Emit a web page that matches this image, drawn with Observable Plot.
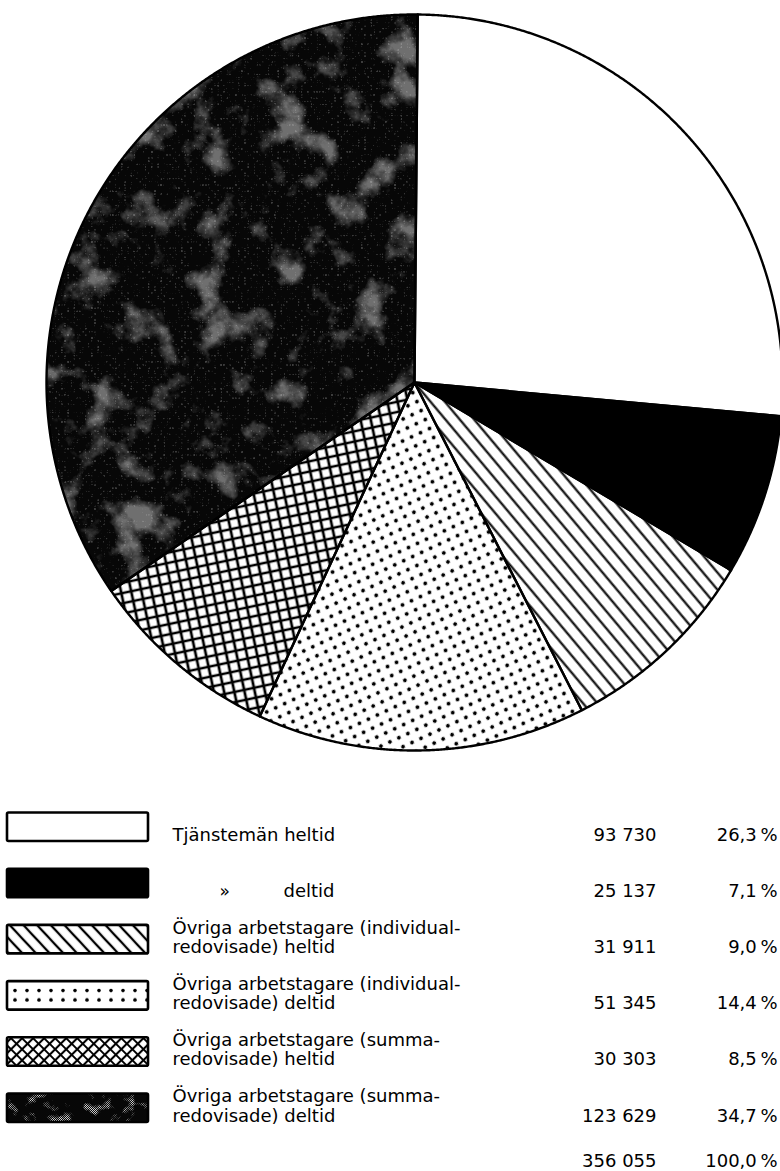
<!DOCTYPE html>
<html>
<head>
<meta charset="utf-8">
<script src="https://cdn.jsdelivr.net/npm/d3@7"></script>
<script src="https://cdn.jsdelivr.net/npm/@observablehq/plot@0.6"></script>
<style>
  html, body { margin: 0; padding: 0; background: #fff; }
  #chart { width: 780px; }
  #chart svg { display: block; }
</style>
</head>
<body>
<div id="chart"></div>
<script>
// ---------------- data ----------------
const categories = [
  "Tjänstemän heltid",
  "» deltid",
  "Övriga arbetstagare (individual-\nredovisade) heltid",
  "Övriga arbetstagare (individual-\nredovisade) deltid",
  "Övriga arbetstagare (summa-\nredovisade) heltid",
  "Övriga arbetstagare (summa-\nredovisade) deltid"
];
const values = [93730, 25137, 31911, 51345, 30303, 123629];
const valueLabels = ["93 730", "25 137", "31 911", "51 345", "30 303", "123 629"];
const percentLabels = ["26,3\u2009%", "7,1\u2009%", "9,0\u2009%", "14,4\u2009%", "8,5\u2009%", "34,7\u2009%"];
const totalValueLabel = "356 055";
const totalPercentLabel = "100,0\u2009%";
const pieFills = ["white", "black", "url(#p-hatch)", "url(#p-dots)", "url(#p-cross)", "#070707"];
const swatchFills = ["white", "black", "url(#l-hatch)", "url(#l-dots)", "url(#l-cross)", "#070707"];

// ---------------- pie ----------------
const cx = 414, cy = 382, R = 368;
const offset = 0.5 * Math.PI / 180;
const arcs = d3.pie().sort(null).startAngle(offset).endAngle(offset + 2 * Math.PI)(values);
const slices = arcs.map((a, i) => {
  const n = Math.max(2, Math.ceil((a.endAngle - a.startAngle) / 0.004));
  const pts = [{x: 0, y: 0}];
  for (let k = 0; k <= n; k++) {
    const t = a.startAngle + (a.endAngle - a.startAngle) * k / n;
    pts.push({x: Math.sin(t), y: Math.cos(t)});
  }
  return {i, pts};
});

const pie = Plot.plot({
  width: 780, height: 790, margin: 0,
  x: {domain: [-1, 1], range: [cx - R, cx + R], axis: null},
  y: {domain: [-1, 1], range: [cy + R, cy - R], axis: null},
  style: {background: "white", overflow: "hidden"},
  marks: [
    ...slices.map(s => Plot.line(s.pts, {x: "x", y: "y", curve: "linear-closed", fill: pieFills[s.i], stroke: "none"})),
    Plot.line(slices[5].pts, {x: "x", y: "y", curve: "linear-closed", fill: "url(#p-speck)", stroke: "none"}),
    Plot.line(slices[5].pts, {x: "x", y: "y", curve: "linear-closed", fill: "url(#p-speck2)", stroke: "none"}),
    ...slices.map(s => Plot.line(s.pts, {x: "x", y: "y", curve: "linear-closed", fill: "none", stroke: "black", strokeWidth: 2.4, strokeLinejoin: "round"}))
  ]
});

const defsPie = `
<pattern id="p-hatch" patternUnits="userSpaceOnUse" width="20" height="11" patternTransform="rotate(50)">
  <rect width="20" height="11" fill="white"/>
  <line x1="0" y1="5.5" x2="20" y2="5.5" stroke="black" stroke-width="2.1"/>
</pattern>
<pattern id="p-dots" patternUnits="userSpaceOnUse" width="14" height="14" patternTransform="rotate(20)">
  <rect width="14" height="14" fill="white"/>
  <circle cx="3.5" cy="3.5" r="1.9" fill="black"/>
  <circle cx="10.5" cy="10.5" r="1.9" fill="black"/>
</pattern>
<pattern id="p-cross" patternUnits="userSpaceOnUse" width="10" height="10" patternTransform="rotate(-12)">
  <rect width="10" height="10" fill="white"/>
  <path d="M0,5H10M5,0V10" stroke="black" stroke-width="2.7"/>
</pattern>
<pattern id="p-speck" patternUnits="userSpaceOnUse" width="2" height="2">
  <rect x="0" y="0" width="1" height="1" fill="#d8d8d8"/>
  <rect x="1" y="1" width="1" height="1" fill="#d8d8d8"/>
</pattern>
<pattern id="p-speck2" patternUnits="userSpaceOnUse" width="3" height="3">
  <rect x="1" y="1" width="1" height="1" fill="#e0e0e0"/>
</pattern>
<filter id="mottle" x="0" y="0" width="1" height="1">
  <feTurbulence type="fractalNoise" baseFrequency="0.026" numOctaves="5" seed="7" result="n"/>
  <feColorMatrix in="n" type="matrix" values="0 0 0 0 0  0 0 0 0 0  0 0 0 0 0  4.2 0 0 0 -2.2" result="m"/>
  <feComposite in="SourceGraphic" in2="m" operator="in"/>
</filter>
<filter id="mottle2" x="0" y="0" width="1" height="1">
  <feTurbulence type="fractalNoise" baseFrequency="0.3" numOctaves="1" seed="3" result="n"/>
  <feColorMatrix in="n" type="matrix" values="0 0 0 0 0  0 0 0 0 0  0 0 0 0 0  6 0 0 0 -3.4" result="m"/>
  <feComposite in="SourceGraphic" in2="m" operator="in"/>
</filter>`;
const dp = document.createElementNS("http://www.w3.org/2000/svg", "defs");
dp.innerHTML = defsPie;
pie.insertBefore(dp, pie.firstChild);
d3.select(pie).selectAll('g[fill="url(#p-speck)"]').attr("filter", "url(#mottle)");
d3.select(pie).selectAll('g[fill="url(#p-speck2)"]').attr("filter", "url(#mottle2)");

// ---------------- legend ----------------
const rowBottom = d3.scaleLinear().domain([0, 5]).range([51, 332]); // px within legend svg
const boxH = 28.5;
const rows = categories.map((c, i) => {
  const ditto = c.startsWith("» ");
  return {
    i, label: ditto ? c.slice(2) : c, ditto,
    value: valueLabels[i], pct: percentLabels[i], fill: swatchFills[i],
    y: rowBottom(i)
  };
});
const totalY = 376;

const legend = Plot.plot({
  width: 780, height: 381, margin: 0,
  x: {domain: [0, 780], range: [0, 780], axis: null},
  y: {domain: [0, 381], range: [0, 381], axis: null},
  color: {type: "identity"},
  style: {background: "white", fontFamily: "DejaVu Sans", overflow: "visible"},
  marks: [
    Plot.rect(rows, {x1: 7, x2: 148, y1: d => d.y - boxH, y2: "y", fill: "fill", stroke: "none"}),
    Plot.rect(rows.filter(d => d.i === 5), {x1: 7, x2: 148, y1: d => d.y - boxH, y2: "y", fill: "url(#l-speck)", stroke: "none"}),
    Plot.rect(rows, {x1: 7, x2: 148, y1: d => d.y - boxH, y2: "y", fill: "none", stroke: "black", strokeWidth: 2.6, rx: 1.5}),
    Plot.text(rows.filter(d => !d.ditto), {x: 172, y: d => d.y - 1, text: "label", textAnchor: "start", lineAnchor: "bottom", lineHeight: 1.06, fontSize: 18, fill: "black"}),
    Plot.text(rows.filter(d => d.ditto), {x: 283, y: d => d.y - 1, text: "label", textAnchor: "start", lineAnchor: "bottom", fontSize: 18, fill: "black"}),
    Plot.text(rows.filter(d => d.ditto), {x: 219, y: d => d.y - 1, text: () => "»", textAnchor: "start", lineAnchor: "bottom", fontSize: 17, fill: "black"}),
    Plot.text(rows, {x: 656, y: d => d.y - 1, text: "value", textAnchor: "end", lineAnchor: "bottom", fontSize: 18, fill: "black"}),
    Plot.text(rows, {x: 777, y: d => d.y - 1, text: "pct", textAnchor: "end", lineAnchor: "bottom", fontSize: 18, fill: "black"}),
    Plot.text([totalValueLabel], {x: 656, y: totalY, text: d => d, textAnchor: "end", lineAnchor: "bottom", fontSize: 18, fill: "black"}),
    Plot.text([totalPercentLabel], {x: 777, y: totalY, text: d => d, textAnchor: "end", lineAnchor: "bottom", fontSize: 18, fill: "black"})
  ]
});

const dotsTop = rowBottom(3) - boxH;
const defsLeg = `
<pattern id="l-hatch" patternUnits="userSpaceOnUse" width="20" height="10" patternTransform="rotate(47)">
  <rect width="20" height="10" fill="white"/>
  <line x1="0" y1="5" x2="20" y2="5" stroke="black" stroke-width="2.3"/>
</pattern>
<pattern id="l-dots" patternUnits="userSpaceOnUse" x="7" y="${dotsTop}" width="12" height="${boxH}">
  <rect width="12" height="${boxH}" fill="white"/>
  <circle cx="8" cy="${boxH * 0.33}" r="1.8" fill="black"/>
  <circle cx="8" cy="${boxH * 0.66}" r="1.8" fill="black"/>
</pattern>
<pattern id="l-cross" patternUnits="userSpaceOnUse" width="7.8" height="7.8" patternTransform="rotate(45)">
  <rect width="7.8" height="7.8" fill="white"/>
  <path d="M0,3.9H7.8M3.9,0V7.8" stroke="black" stroke-width="2.1"/>
</pattern>
<pattern id="l-speck" patternUnits="userSpaceOnUse" width="2" height="2">
  <rect x="0" y="0" width="1" height="1" fill="#cfcfcf"/>
  <rect x="1" y="1" width="1" height="1" fill="#cfcfcf"/>
</pattern>
<filter id="mottleL" x="0" y="0" width="1" height="1">
  <feTurbulence type="fractalNoise" baseFrequency="0.08" numOctaves="3" seed="11" result="n"/>
  <feColorMatrix in="n" type="matrix" values="0 0 0 0 0  0 0 0 0 0  0 0 0 0 0  5 0 0 0 -2.75" result="m"/>
  <feComposite in="SourceGraphic" in2="m" operator="in"/>
</filter>`;
const dl = document.createElementNS("http://www.w3.org/2000/svg", "defs");
dl.innerHTML = defsLeg;
legend.insertBefore(dl, legend.firstChild);
d3.select(legend).selectAll('g[fill="url(#l-speck)"]').attr("filter", "url(#mottleL)");

const chart = document.getElementById("chart");
chart.appendChild(pie);
chart.appendChild(legend);
</script>
</body>
</html>
